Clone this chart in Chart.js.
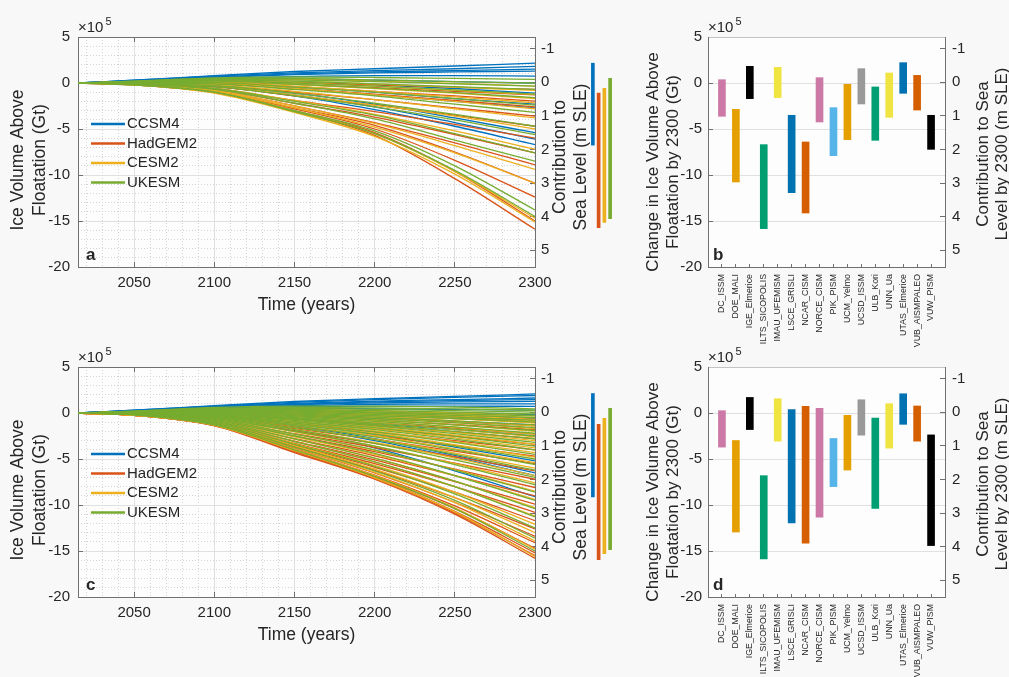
<!DOCTYPE html>
<html>
<head>
<meta charset="utf-8">
<script src="https://cdn.jsdelivr.net/npm/chart.js@4.4.1/dist/chart.umd.min.js"></script>
<style>
  html, body { margin: 0; padding: 0; background: #f8f8f8; }
  #fig { position: relative; width: 1009px; height: 677px; overflow: hidden; }
  .box { position: absolute; }
</style>
</head>
<body>
<div id="fig">
  <div class="box" style="left:0;top:0;width:590px;height:320px"><canvas id="panel-a"></canvas></div>
  <div class="box" style="left:590px;top:37px;width:23px;height:230px"><canvas id="range-a"></canvas></div>
  <div class="box" style="left:630px;top:0;width:379px;height:370px"><canvas id="panel-b"></canvas></div>
  <div class="box" style="left:0;top:330px;width:590px;height:320px"><canvas id="panel-c"></canvas></div>
  <div class="box" style="left:590px;top:367px;width:23px;height:230px"><canvas id="range-c"></canvas></div>
  <div class="box" style="left:630px;top:330px;width:379px;height:347px"><canvas id="panel-d"></canvas></div>
</div>
<script>
// Ice volume above floatation, ISMIP6-style ensemble (values in 10^5 Gt)

const YEARS = [2015, 2050, 2100, 2150, 2200, 2250, 2300];
const X_TICKS = [2050, 2100, 2150, 2200, 2250, 2300];
const Y_TICKS = [-20, -15, -10, -5, 0, 5];
const SLE_TICKS = [-1, 0, 1, 2, 3, 4, 5];

const GCMS = ["CCSM4", "HadGEM2", "CESM2", "UKESM"];
const GCM_COLORS = ["#0072BD", "#D95319", "#EDB120", "#77AC30"];

// panel a trajectories
const A_CCSM4 = [
  [0, 0.3, 0.8, 1.25, 1.55, 1.85, 2.15],
  [0, 0.3, 0.75, 1.1, 1.35, 1.55, 1.8],
  [0, 0.25, 0.65, 1.0, 1.2, 1.35, 1.5],
  [0, 0.2, 0.6, 0.9, 1.1, 1.2, 1.3],
  [0, 0.2, 0.5, 0.7, 0.8, 0.8, 0.75],
  [0, 0.15, 0.35, 0.4, 0.3, 0.15, 0.0],
  [0, 0.1, 0.2, 0.1, -0.2, -0.6, -1.1],
  [0, 0.05, 0.0, -0.4, -1.0, -1.7, -2.3],
  [0, 0.05, -0.1, -0.6, -1.3, -2.0, -2.7],
  [0, 0.0, -0.3, -1.1, -2.3, -3.8, -5.4],
  [0, 0.0, -0.35, -1.3, -2.6, -4.3, -6.1],
  [0, -0.05, -0.4, -1.4, -2.9, -4.7, -6.7]
];
const A_HADGEM2 = [
  [0, 0.1, 0.2, 0.05, -0.2, -0.45, -0.7],
  [0, 0.05, 0.1, -0.15, -0.5, -0.9, -1.3],
  [0, 0.05, 0.0, -0.4, -0.9, -1.4, -1.97],
  [0, 0.0, -0.1, -0.6, -1.2, -1.9, -2.6],
  [0, -0.05, -0.3, -1.0, -1.8, -2.7, -3.6],
  [0, -0.05, -0.4, -1.4, -2.4, -3.5, -4.7],
  [0, -0.1, -0.6, -1.9, -3.1, -4.5, -6.0],
  [0, -0.1, -0.7, -2.2, -3.7, -5.6, -7.6],
  [0, -0.15, -0.8, -2.5, -4.3, -6.5, -8.9],
  [0, -0.15, -0.9, -2.7, -4.6, -7.5, -10.9],
  [0, -0.15, -0.9, -2.8, -5.0, -8.4, -12.4],
  [0, -0.2, -1.0, -3.0, -5.4, -9.6, -15.0],
  [0, -0.2, -1.05, -3.1, -5.7, -10.4, -15.9]
];
const A_CESM2 = [
  [0, 0.15, 0.4, 0.4, 0.2, -0.05, -0.33],
  [0, 0.1, 0.3, 0.2, -0.1, -0.45, -0.8],
  [0, 0.1, 0.25, 0.05, -0.35, -0.8, -1.24],
  [0, 0.05, 0.15, -0.15, -0.6, -1.1, -1.7],
  [0, 0.05, 0.05, -0.35, -0.9, -1.5, -2.15],
  [0, 0.0, -0.05, -0.6, -1.3, -2.0, -2.8],
  [0, 0.0, -0.2, -0.9, -1.8, -2.8, -3.8],
  [0, -0.05, -0.35, -1.3, -2.4, -3.6, -5.0],
  [0, -0.1, -0.6, -1.9, -3.4, -5.2, -7.2],
  [0, -0.15, -0.8, -2.5, -4.4, -6.8, -9.4],
  [0, -0.15, -0.9, -2.7, -4.8, -7.6, -10.9],
  [0, -0.2, -1.0, -3.0, -5.5, -9.6, -14.7],
  [0, -0.2, -1.1, -3.2, -5.8, -9.9, -15.1]
];
const A_UKESM = [
  [0, 0.2, 0.55, 0.65, 0.6, 0.5, 0.4],
  [0, 0.2, 0.5, 0.5, 0.35, 0.15, 0.0],
  [0, 0.15, 0.4, 0.35, 0.15, -0.1, -0.33],
  [0, 0.15, 0.35, 0.2, -0.1, -0.4, -0.7],
  [0, 0.1, 0.25, 0.0, -0.35, -0.75, -1.2],
  [0, 0.1, 0.2, -0.15, -0.55, -1.05, -1.6],
  [0, 0.05, 0.05, -0.45, -1.0, -1.7, -2.4],
  [0, 0.0, -0.1, -0.7, -1.4, -2.3, -3.2],
  [0, -0.05, -0.3, -1.1, -2.2, -3.4, -4.7],
  [0, -0.05, -0.4, -1.4, -2.6, -4.0, -5.6],
  [0, -0.1, -0.6, -2.0, -3.5, -5.5, -7.6],
  [0, -0.1, -0.7, -2.2, -3.9, -6.2, -8.5],
  [0, -0.2, -1.0, -3.0, -5.2, -9.0, -13.8],
  [0, -0.2, -1.0, -3.1, -5.5, -9.5, -14.5]
];

// panel c trajectories
const C_CCSM4 = [
  [0, 0.3, 0.8, 1.25, 1.55, 1.8, 2.07],
  [0, 0.3, 0.75, 1.15, 1.45, 1.7, 1.9],
  [0, 0.25, 0.7, 1.05, 1.3, 1.45, 1.63],
  [0, 0.25, 0.65, 0.95, 1.2, 1.35, 1.45],
  [0, 0.2, 0.6, 0.9, 1.1, 1.2, 1.27],
  [0, 0.2, 0.55, 0.8, 0.95, 1.0, 1.0],
  [0, 0.2, 0.5, 0.7, 0.75, 0.75, 0.72],
  [0, 0.15, 0.4, 0.5, 0.45, 0.4, 0.3],
  [0, 0.1, 0.3, 0.3, 0.15, 0.0, -0.18],
  [0, 0.1, 0.2, 0.1, -0.15, -0.35, -0.6],
  [0, 0.05, 0.1, -0.2, -0.6, -0.9, -1.3],
  [0, 0.05, -0.05, -0.6, -1.2, -1.8, -2.5],
  [0, 0.0, -0.3, -1.2, -2.3, -3.7, -5.2],
  [0, 0.0, -0.35, -1.4, -2.8, -4.6, -6.5],
  [0, -0.05, -0.4, -1.5, -3.0, -4.8, -6.8],
  [0, -0.05, -0.5, -1.9, -3.8, -6.3, -9.1]
];
const C_HADGEM2 = [
  [0, 0.1, 0.25, 0.1, -0.15, -0.4, -0.7],
  [0, 0.1, 0.2, 0.0, -0.3, -0.6, -1.0],
  [0, 0.05, 0.1, -0.2, -0.5, -0.9, -1.4],
  [0, 0.05, 0.0, -0.35, -0.75, -1.25, -1.8],
  [0, 0.0, -0.1, -0.55, -1.05, -1.65, -2.3],
  [0, 0.0, -0.2, -0.75, -1.35, -2.05, -2.8],
  [0, -0.05, -0.3, -1.0, -1.7, -2.5, -3.4],
  [0, -0.05, -0.4, -1.2, -2.05, -3.0, -4.0],
  [0, -0.1, -0.5, -1.45, -2.45, -3.55, -4.7],
  [0, -0.1, -0.6, -1.7, -2.85, -4.15, -5.5],
  [0, -0.1, -0.7, -1.95, -3.3, -4.75, -6.3],
  [0, -0.15, -0.8, -2.25, -3.75, -5.45, -7.2],
  [0, -0.15, -0.9, -2.5, -4.2, -6.1, -8.1],
  [0, -0.15, -1.0, -2.8, -4.65, -6.8, -9.0],
  [0, -0.2, -1.05, -3.05, -5.1, -7.45, -9.9],
  [0, -0.2, -1.1, -3.3, -5.5, -8.0, -10.8],
  [0, -0.2, -1.15, -3.5, -5.9, -8.6, -11.7],
  [0, -0.2, -1.2, -3.65, -6.2, -9.2, -12.6],
  [0, -0.25, -1.25, -3.8, -6.5, -9.7, -13.4],
  [0, -0.25, -1.3, -3.95, -6.75, -10.1, -14.1],
  [0, -0.25, -1.3, -4.05, -6.9, -10.4, -14.7],
  [0, -0.25, -1.35, -4.15, -7.0, -10.7, -15.2],
  [0, -0.25, -1.35, -4.2, -7.1, -10.85, -15.5],
  [0, -0.25, -1.4, -4.3, -7.2, -11.0, -15.8]
];
const C_CESM2 = [
  [0, 0.15, 0.45, 0.45, 0.25, 0.0, -0.3],
  [0, 0.15, 0.4, 0.35, 0.15, -0.15, -0.5],
  [0, 0.1, 0.35, 0.3, 0.05, -0.3, -0.7],
  [0, 0.1, 0.3, 0.2, -0.1, -0.45, -0.9],
  [0, 0.1, 0.25, 0.1, -0.2, -0.6, -1.1],
  [0, 0.1, 0.2, 0.0, -0.35, -0.85, -1.4],
  [0, 0.05, 0.15, -0.1, -0.5, -1.05, -1.7],
  [0, 0.05, 0.1, -0.25, -0.7, -1.3, -2.0],
  [0, 0.05, 0.05, -0.35, -0.85, -1.55, -2.3],
  [0, 0.0, 0.0, -0.45, -1.05, -1.8, -2.6],
  [0, 0.0, -0.1, -0.6, -1.25, -2.1, -3.0],
  [0, 0.0, -0.15, -0.75, -1.5, -2.4, -3.4],
  [0, -0.05, -0.2, -0.9, -1.7, -2.7, -3.8],
  [0, -0.05, -0.3, -1.05, -1.95, -3.1, -4.3],
  [0, -0.05, -0.35, -1.2, -2.2, -3.45, -4.8],
  [0, -0.05, -0.4, -1.4, -2.5, -3.9, -5.4],
  [0, -0.1, -0.5, -1.6, -2.85, -4.35, -6.0],
  [0, -0.1, -0.55, -1.8, -3.2, -4.9, -6.8],
  [0, -0.1, -0.65, -2.05, -3.6, -5.5, -7.6],
  [0, -0.15, -0.75, -2.3, -4.05, -6.15, -8.5],
  [0, -0.15, -0.85, -2.6, -4.5, -6.8, -9.4],
  [0, -0.15, -0.95, -2.85, -4.9, -7.4, -10.3],
  [0, -0.2, -1.0, -3.1, -5.3, -8.0, -11.2],
  [0, -0.2, -1.1, -3.35, -5.7, -8.6, -12.1],
  [0, -0.2, -1.15, -3.55, -6.1, -9.2, -13.0],
  [0, -0.2, -1.2, -3.75, -6.45, -9.75, -13.9],
  [0, -0.25, -1.3, -3.95, -6.8, -10.3, -14.8],
  [0, -0.25, -1.35, -4.1, -7.05, -10.75, -15.6]
];
const C_UKESM = [
  [0, 0.2, 0.6, 0.75, 0.75, 0.65, 0.45],
  [0, 0.2, 0.5, 0.6, 0.55, 0.45, 0.3],
  [0, 0.15, 0.45, 0.5, 0.4, 0.25, 0.1],
  [0, 0.15, 0.4, 0.4, 0.25, 0.1, -0.1],
  [0, 0.1, 0.35, 0.3, 0.1, -0.1, -0.3],
  [0, 0.1, 0.3, 0.2, 0.0, -0.25, -0.5],
  [0, 0.1, 0.25, 0.1, -0.15, -0.45, -0.8],
  [0, 0.1, 0.2, 0.0, -0.3, -0.6, -1.0],
  [0, 0.05, 0.15, -0.1, -0.45, -0.85, -1.3],
  [0, 0.05, 0.1, -0.2, -0.6, -1.05, -1.6],
  [0, 0.05, 0.05, -0.3, -0.75, -1.3, -1.9],
  [0, 0.05, 0.0, -0.4, -0.9, -1.5, -2.2],
  [0, 0.0, -0.05, -0.5, -1.1, -1.75, -2.5],
  [0, 0.0, -0.1, -0.6, -1.25, -2.0, -2.8],
  [0, 0.0, -0.15, -0.7, -1.4, -2.25, -3.2],
  [0, 0.0, -0.2, -0.8, -1.6, -2.55, -3.6],
  [0, 0.0, -0.25, -0.95, -1.8, -2.85, -4.0],
  [0, -0.05, -0.3, -1.1, -2.05, -3.2, -4.5],
  [0, -0.05, -0.35, -1.25, -2.3, -3.6, -5.0],
  [0, -0.05, -0.4, -1.4, -2.6, -4.0, -5.6],
  [0, -0.05, -0.45, -1.6, -2.9, -4.5, -6.2],
  [0, -0.1, -0.5, -1.8, -3.3, -5.1, -7.0],
  [0, -0.1, -0.6, -2.0, -3.6, -5.6, -7.8],
  [0, -0.1, -0.7, -2.3, -4.0, -6.2, -8.6],
  [0, -0.1, -0.8, -2.5, -4.4, -6.8, -9.5],
  [0, -0.15, -0.9, -2.8, -4.9, -7.4, -10.4],
  [0, -0.15, -1.0, -3.1, -5.3, -8.0, -11.3],
  [0, -0.15, -1.1, -3.4, -5.8, -8.8, -12.5],
  [0, -0.2, -1.2, -3.7, -6.3, -9.5, -13.6],
  [0, -0.2, -1.3, -4.0, -6.9, -10.4, -15.0]
];

// 2300 range per GCM, in m SLE [low, high]
const A_RANGES = [[-0.57, 1.87], [0.32, 4.33], [0.18, 4.17], [-0.12, 4.06]];
const C_RANGES = [[-0.56, 2.52], [0.36, 4.39], [0.18, 4.21], [-0.12, 4.09]];

// panels b and d: change by 2300 per ice sheet model (10^5 Gt)
const MODELS = ["DC_ISSM", "DOE_MALI", "IGE_Elmerice", "ILTS_SICOPOLIS", "IMAU_UFEMISM",
  "LSCE_GRISLI", "NCAR_CISM", "NORCE_CISM", "PIK_PISM", "UCM_Yelmo", "UCSD_ISSM",
  "ULB_Kori", "UNN_Ua", "UTAS_Elmerice", "VUB_AISMPALEO", "VUW_PISM"];
const MODEL_COLORS = ["#CC79A7", "#E69F00", "#000000", "#009E73", "#F0E442", "#0072B2",
  "#D55E00", "#CC79A7", "#56B4E9", "#E69F00", "#999999", "#009E73", "#F0E442",
  "#0072B2", "#D55E00", "#000000"];
const B_TOP = [0.36, -2.86, 1.81, -6.7, 1.7, -3.51, -6.41, 0.58, -2.68, -0.14, 1.56, -0.43, 1.09, 2.21, 0.83, -3.51];
const B_BOTTOM = [-3.62, -10.76, -1.7, -15.83, -1.59, -11.92, -14.13, -4.24, -7.9, -6.16, -2.28, -6.23, -3.73, -1.12, -2.94, -7.21];
const D_TOP = [0.25, -2.99, 1.69, -6.81, 1.55, 0.36, 0.72, 0.5, -2.77, -0.25, 1.44, -0.54, 1.01, 2.09, 0.76, -2.38];
const D_BOTTOM = [-3.71, -12.94, -1.8, -15.86, -3.06, -11.96, -14.16, -11.32, -8.0, -6.2, -2.41, -10.38, -3.82, -1.23, -3.06, -14.41];

const SLE_MIN = -1.35, SLE_MAX = 5.5;

const FONT = '"Liberation Sans", Arial, Helvetica, sans-serif';
const INK = "#262626";
const AXIS = "#707070";
const GRID = "#e0e0e0";
const MINOR = "#d4d4d4";

Chart.defaults.font.family = FONT;
Chart.defaults.color = INK;

const X_MINOR = [];
for (let yr = 2020; yr < 2300; yr += 10) if (yr % 50 !== 0) X_MINOR.push(yr);
const Y_MINOR = [];
for (let v = -19; v < 5; v++) if (v % 5 !== 0) Y_MINOR.push(v);

const setTicks = list => scale => { scale.ticks = list.map(v => ({ value: v })); };

// plot background, exponent label, panel letter, rotated titles, legend
const decor = {
  id: "decor",
  beforeDraw(chart, args, o) {
    const { ctx, chartArea: ca } = chart;
    ctx.save();
    ctx.fillStyle = "#fdfdfd";
    ctx.fillRect(ca.left, ca.top, ca.right - ca.left, ca.bottom - ca.top);
    ctx.restore();
  },
  afterDraw(chart, args, o) {
    const { ctx, chartArea: ca } = chart;
    ctx.save();
    ctx.fillStyle = INK;
    ctx.textBaseline = "middle";
    ctx.textAlign = "left";
    ctx.font = "15px " + FONT;
    ctx.fillText("×10", ca.left, ca.top - 9);
    const w = ctx.measureText("×10").width;
    ctx.font = "11px " + FONT;
    ctx.fillText("5", ca.left + w + 2, ca.top - 15);

    ctx.font = "bold 17px " + FONT;
    ctx.fillText(o.letter, ca.left + o.letterDx, ca.bottom - 12);

    const cy = (ca.top + ca.bottom) / 2;
    ctx.textAlign = "center";
    ctx.font = o.titleSize + "px " + FONT;
    const rotated = (lines, xs, dy) => lines.forEach((t, i) => {
      ctx.save();
      ctx.translate(xs[i], cy + dy);
      ctx.rotate(-Math.PI / 2);
      ctx.fillText(t, 0, 0);
      ctx.restore();
    });
    rotated(o.leftTitle, o.leftX, o.leftDy);
    rotated(o.rightTitle, o.rightX, o.rightDy);

    if (o.legend) {
      ctx.textAlign = "left";
      ctx.font = "15px " + FONT;
      GCMS.forEach((name, i) => {
        const y = ca.top + o.legendTop + i * 19.5;
        ctx.strokeStyle = GCM_COLORS[i];
        ctx.lineWidth = 2.5;
        ctx.beginPath();
        ctx.moveTo(ca.left + 13, y);
        ctx.lineTo(ca.left + 47, y);
        ctx.stroke();
        ctx.fillStyle = INK;
        ctx.fillText(name, ca.left + 49, y);
      });
    }
    ctx.restore();
  }
};

function yAxes(leftW, rightW, leftPad, rightPad) {
  return {
    y: {
      type: "linear", position: "left", min: -20, max: 5,
      afterBuildTicks: setTicks(Y_TICKS),
      afterFit: s => { s.width = leftW; },
      grid: { color: GRID, tickColor: AXIS, tickLength: -5 },
      border: { color: AXIS },
      ticks: { font: { size: 15 }, padding: leftPad, color: INK, callback: v => String(v) }
    },
    y2: {
      type: "linear", position: "right", reverse: true, min: SLE_MIN, max: SLE_MAX,
      afterBuildTicks: setTicks(SLE_TICKS),
      afterFit: s => { s.width = rightW; },
      grid: { drawOnChartArea: false, tickColor: AXIS, tickLength: -5 },
      border: { color: AXIS },
      ticks: { font: { size: 15 }, padding: rightPad, color: INK, callback: v => String(v) }
    }
  };
}

function linePanel(id, groups, letter) {
  const datasets = [];
  groups.forEach((runs, g) => {
    runs.forEach(run => {
      datasets.push({
        label: GCMS[g],
        data: run.map((v, i) => ({ x: YEARS[i], y: v })),
        borderColor: GCM_COLORS[g],
        borderWidth: 1.3,
        pointRadius: 0,
        fill: false,
        cubicInterpolationMode: "monotone",
        order: groups.length - g
      });
    });
  });

  new Chart(document.getElementById(id), {
    type: "line",
    data: { datasets },
    options: {
      responsive: true,
      maintainAspectRatio: false,
      animation: false,
      events: [],
      layout: { padding: 0 },
      plugins: {
        legend: { display: false },
        tooltip: { enabled: false },
        decor: {
          letter, letterDx: 8, titleSize: 17.5,
          leftTitle: ["Ice Volume Above", "Floatation (Gt)"], leftX: [18, 40], leftDy: 8,
          rightTitle: ["Contribution to", "Sea Level (m SLE)"], rightX: [560, 581], rightDy: 5,
          legend: true, legendTop: 87
        }
      },
      scales: {
        x: {
          type: "linear", position: "bottom", min: 2015, max: 2300,
          afterBuildTicks: setTicks(X_TICKS),
          afterFit: s => { s.height = 53; },
          grid: { color: GRID, tickColor: AXIS, tickLength: -5 },
          border: { color: AXIS },
          ticks: { font: { size: 15 }, padding: 12, color: INK, maxRotation: 0, autoSkip: false, callback: v => String(v) },
          title: { display: true, text: "Time (years)", font: { size: 17.5 }, color: INK, padding: { top: 0, bottom: 4 } }
        },
        xMinor: {
          type: "linear", position: "bottom", min: 2015, max: 2300,
          afterBuildTicks: setTicks(X_MINOR),
          afterFit: s => { s.height = 0; },
          grid: { color: MINOR, drawTicks: false },
          border: { display: false, dash: [1, 2] },
          ticks: { display: false }
        },
        xTop: {
          type: "linear", position: "top", min: 2015, max: 2300,
          afterBuildTicks: setTicks(X_TICKS),
          afterFit: s => { s.height = 37; },
          grid: { drawOnChartArea: false, tickColor: AXIS, tickLength: -5 },
          border: { color: AXIS },
          ticks: { display: false }
        },
        yMinor: {
          type: "linear", position: "left", min: -20, max: 5,
          afterBuildTicks: setTicks(Y_MINOR),
          afterFit: s => { s.width = 0; },
          grid: { color: MINOR, drawTicks: false },
          border: { display: false, dash: [1, 2] },
          ticks: { display: false }
        },
        ...yAxes(78, 55, 13, 11)
      }
    },
    plugins: [decor]
  });
}

function rangePanel(id, ranges) {
  new Chart(document.getElementById(id), {
    type: "bar",
    data: {
      labels: GCMS,
      datasets: [{ data: ranges, backgroundColor: GCM_COLORS, barThickness: 3, borderWidth: 0 }]
    },
    options: {
      responsive: true,
      maintainAspectRatio: false,
      animation: false,
      events: [],
      layout: { padding: 0 },
      plugins: { legend: { display: false }, tooltip: { enabled: false } },
      scales: {
        x: { display: false },
        y: { display: false, reverse: true, min: SLE_MIN, max: SLE_MAX }
      }
    }
  });
}

function barPanel(id, tops, bottoms, letter, xHeight) {
  new Chart(document.getElementById(id), {
    type: "bar",
    data: {
      datasets: [{
        data: MODELS.map((m, i) => ({ x: i + 1, y: [bottoms[i], tops[i]] })),
        backgroundColor: MODEL_COLORS,
        barThickness: 7,
        borderWidth: 0
      }]
    },
    options: {
      responsive: true,
      maintainAspectRatio: false,
      animation: false,
      events: [],
      layout: { padding: 0 },
      plugins: {
        legend: { display: false },
        tooltip: { enabled: false },
        decor: {
          letter, letterDx: 5, titleSize: 17,
          leftTitle: ["Change in Ice Volume Above", "Floatation by 2300 (Gt)"], leftX: [23, 43], leftDy: 10,
          rightTitle: ["Contribution to Sea", "Level by 2300 (m SLE)"], rightX: [353, 372], rightDy: 2,
          legend: false
        }
      },
      scales: {
        x: {
          type: "linear", position: "bottom", min: 0, max: 17, offset: false,
          afterBuildTicks: setTicks(MODELS.map((m, i) => i + 1)),
          afterFit: s => { s.height = xHeight; },
          grid: { drawOnChartArea: false, offset: false, tickColor: AXIS, tickLength: -3 },
          border: { color: AXIS },
          ticks: { autoSkip: false, minRotation: 90, maxRotation: 90, font: { size: 8.8 }, padding: 10, color: INK,
                   callback: v => MODELS[v - 1] }
        },
        xTop: {
          type: "linear", position: "top", min: 0, max: 17,
          afterFit: s => { s.height = 37; },
          grid: { display: false },
          border: { color: "#c4c4c4" },
          ticks: { display: false }
        },
        ...yAxes(78, 64, 11, 12)
      }
    },
    plugins: [decor]
  });
}

linePanel("panel-a", [A_CCSM4, A_HADGEM2, A_CESM2, A_UKESM], "a");
rangePanel("range-a", A_RANGES);
barPanel("panel-b", B_TOP, B_BOTTOM, "b", 103);
linePanel("panel-c", [C_CCSM4, C_HADGEM2, C_CESM2, C_UKESM], "c");
rangePanel("range-c", C_RANGES);
barPanel("panel-d", D_TOP, D_BOTTOM, "d", 80);
</script>
</body>
</html>
